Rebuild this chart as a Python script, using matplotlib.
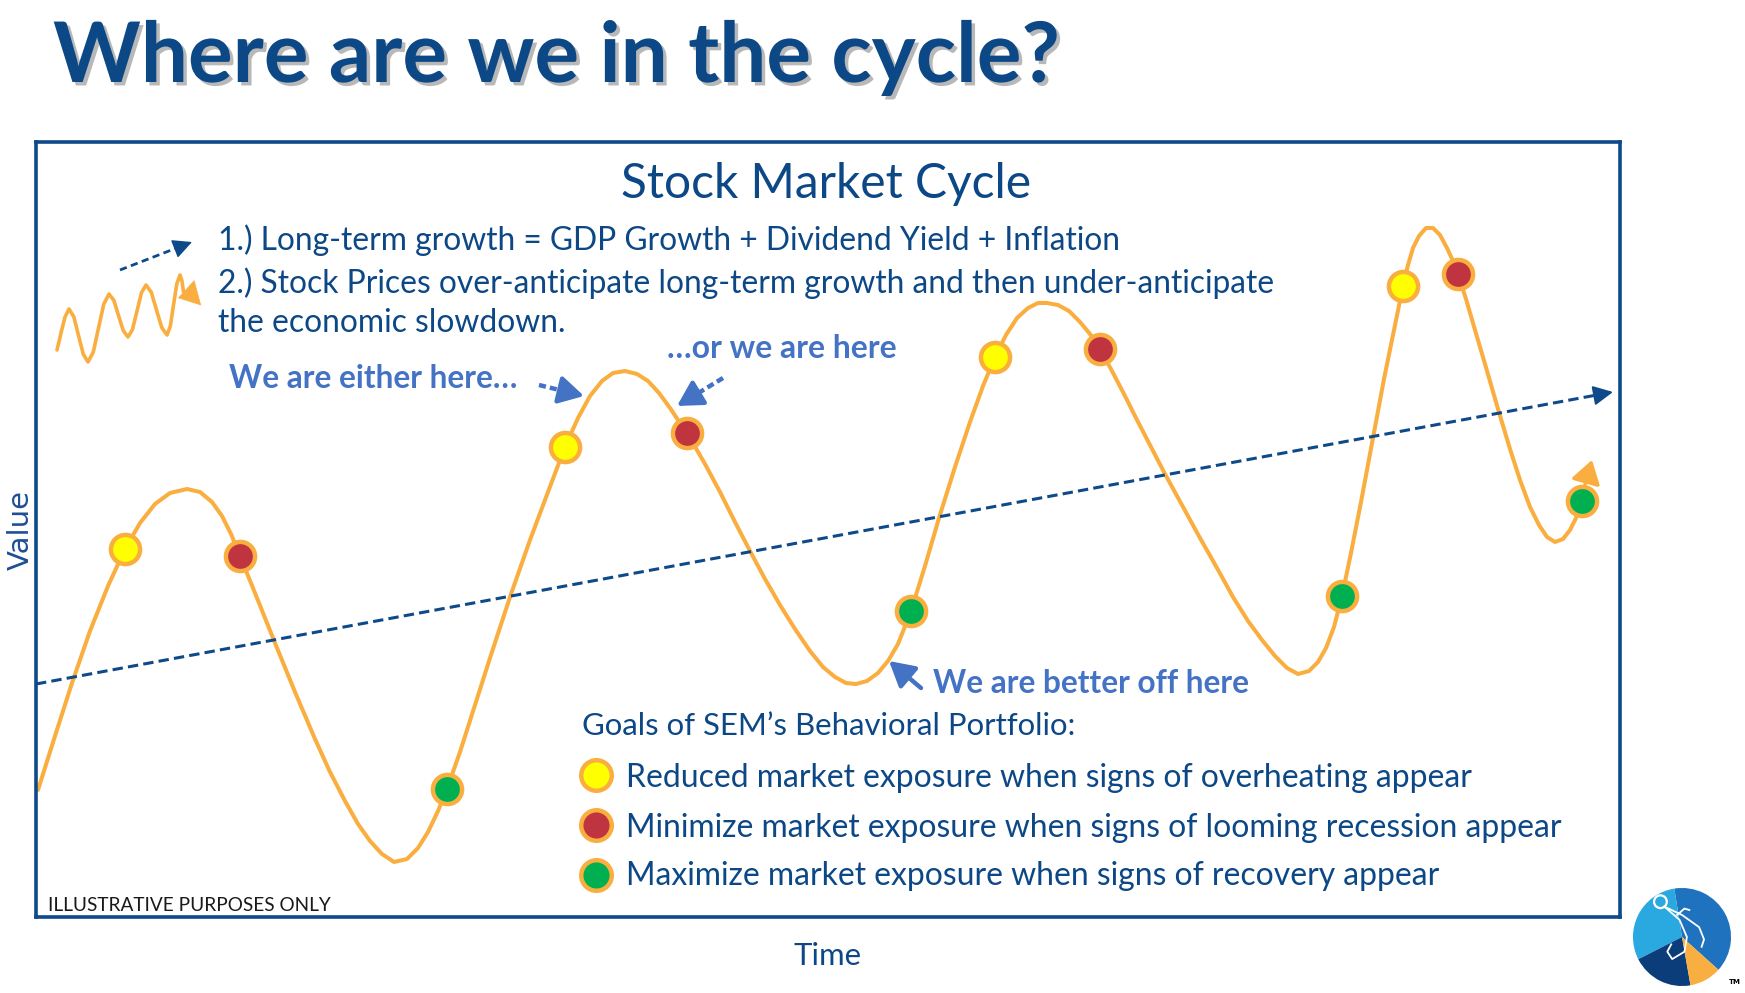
import matplotlib
matplotlib.use('Agg')
import matplotlib.pyplot as plt
import matplotlib.patheffects as pe
import numpy as np

W, H, DPI = 1745, 993, 100

# ---------------- data (Time / Value units) ----------------
curve_t = [0.2, 1.9, 3.6, 5.4, 7.2, 8.9, 10.4, 11.9, 13.4, 15.1, 16.4, 17.6, 18.6, 19.5, 20.4,
           21.9, 23.9, 25.9, 27.9, 29.4, 30.9, 32.2, 33.4, 34.6, 35.8, 37.1, 38.2, 39.2, 40.2,
           41.1, 42.4, 43.9, 45.4, 47.4, 49.4, 51.2, 52.9, 54.2, 55.4, 56.6, 57.7, 58.9, 60.1,
           61.2, 62.3, 63.4, 64.4, 65.4, 66.9, 68.4, 69.9, 71.4, 72.9, 74.4, 75.9, 77.4, 78.7,
           79.9, 81.0, 82.0, 83.1, 84.2, 85.2, 86.2, 87.5, 88.9, 90.3, 91.9, 93.4, 94.7, 95.9,
           97.0, 98.1, 99.2, 100.2, 101.1, 102.2, 103.3, 104.4, 105.4, 106.4, 107.6, 108.8,
           110.0, 111.4, 112.9, 114.6, 116.4, 118.1, 119.7, 121.2, 122.6, 123.9, 125.1, 126.2,
           127.3, 128.2, 129.0, 129.8, 130.6, 131.5, 132.5, 133.6, 134.8, 135.8, 136.7, 137.2,
           137.7, 138.3, 139.0, 139.7, 140.4, 141.1, 141.7, 142.2, 143.0, 143.9, 144.9, 146.2,
           147.4, 148.4, 149.4, 150.3, 151.1, 151.9, 152.7, 153.4, 154.0, 154.6]
curve_v = [12.7, 18.1, 23.4, 28.6, 33.1, 36.8, 39.4, 41.3, 42.4, 42.8, 42.5, 41.5, 40.1, 38.3, 36.1,
           32.4, 27.4, 22.5, 17.8, 14.5, 11.6, 9.3, 7.6, 6.3, 5.5, 5.8, 6.9, 8.5, 10.6,
           12.8, 16.5, 21.2, 25.9, 32.0, 37.7, 42.5, 47.0, 49.9, 52.1, 53.6, 54.4, 54.6, 54.3,
           53.6, 52.4, 50.9, 49.4, 47.9, 45.3, 42.5, 39.5, 36.6, 33.8, 31.2, 28.8, 26.6, 25.0,
           24.0, 23.4, 23.3, 23.6, 24.4, 25.6, 27.3, 30.6, 35.1, 39.9, 45.0, 49.5, 53.1, 56.0,
           58.2, 59.9, 60.9, 61.4, 61.4, 61.2, 60.6, 59.5, 58.3, 56.8, 54.6, 52.3,
           49.9, 47.2, 44.3, 41.2, 37.9, 34.9, 32.0, 29.6, 27.7, 26.1, 24.9, 24.3,
           24.6, 25.5, 26.9, 29.0, 32.1, 36.4, 41.5, 47.4, 53.8, 58.7, 63.1, 65.2,
           66.9, 68.1, 68.9, 68.9, 68.2, 66.9, 65.6, 64.3, 61.8, 58.7, 55.3, 50.8,
           46.8, 43.7, 41.0, 39.2, 38.0, 37.5, 37.8, 38.7, 39.9, 41.6]

yellow_t = [8.9, 52.9, 95.9, 136.7]
yellow_v = [36.8, 47.0, 56.0, 63.1]
red_t = [20.4, 65.1, 106.4, 142.2]
red_v = [36.1, 48.4, 56.8, 64.3]
green_t = [41.1, 87.5, 130.6, 154.6]
green_v = [12.8, 30.6, 32.1, 41.6]

trend_t = [0.0, 157.7]
trend_v = [23.3, 52.5]

end_arrow_t = [154.7, 155.6]
end_arrow_v = [42.5, 45.7]

# mini illustration (top-left)
mini_t = [2.1, 2.5, 2.9, 3.3, 3.78, 4.25, 4.73, 5.2, 5.73, 6.25, 6.78, 7.3, 7.78, 8.25, 8.73,
          9.2, 9.65, 10.1, 10.55, 11.0, 11.53, 12.05, 12.58, 13.1, 13.43, 13.75, 14.08, 14.4,
          14.6, 14.75]
mini_v = [56.7, 58.4, 60.0, 60.8, 60.03, 58.15, 56.27, 55.5, 56.5, 58.9, 61.3, 62.3, 61.67, 60.15,
          58.63, 58.0, 58.76, 60.6, 62.44, 63.2, 62.47, 60.7, 58.93, 58.2, 59.08, 61.2, 63.32, 64.2,
          63.6, 62.5]
mini_head_t = [15.7, 14.2]
mini_head_v = [62.3, 61.9]
mini_trend_t = [8.4, 15.6]
mini_trend_v = [64.7, 67.5]

# callout arrows
either_t = [50.3, 54.8]
either_v = [53.2, 52.1]
orhere_t = [68.7, 64.1]
orhere_v = [53.9, 51.1]
better_t = [88.5, 85.3]
better_v = [22.9, 25.6]

legend_t = [56.0, 56.0, 56.0]
legend_v = [14.2, 9.2, 4.2]

title = 'Where are we in the cycle?'
chart_title = 'Stock Market Cycle'
notes = ['1.) Long-term growth = GDP Growth + Dividend Yield + Inflation',
         '2.) Stock Prices over-anticipate long-term growth and then under-anticipate',
         'the economic slowdown.']
callouts = ['We are either here\u2026', '\u2026or we are here', 'We are better off here']
goals_title = 'Goals of SEM\u2019s Behavioral Portfolio:'
goals = ['Reduced market exposure when signs of overheating appear',
         'Minimize market exposure when signs of looming recession appear',
         'Maximize market exposure when signs of recovery appear']
footnote = 'ILLUSTRATIVE PURPOSES ONLY'
xlabel = 'Time'
ylabel = 'Value'

logo_shares = [141, 108, 73, 38]

# ---------------- styles ----------------
NAVY = '#0C4786'
BOX = '#0E4A8A'
LBLUE = '#4472C4'
ORANGE = '#F9AE3F'
YEL = '#FFFF00'
RED = '#C0343F'
GRN = '#00B050'
FONT = 'Lato'

fig = plt.figure(figsize=(W / DPI, H / DPI), dpi=DPI)
renderer = fig.canvas.get_renderer()

ax = fig.add_axes([36 / W, 1 - 917 / H, (1620 - 36) / W, (917 - 142) / H])
ax.set_xlim(0, 158.4)
ax.set_ylim(0, 77.5)
ax.set_xticks([])
ax.set_yticks([])
for sp in ax.spines.values():
    sp.set_linewidth(2.6)
    sp.set_color(BOX)

# trend
ax.plot(trend_t, trend_v, color=BOX, lw=2.2, ls=(0, (3.4, 1.7)), zorder=3)
dt = trend_t[1] - trend_t[0]
slope = (trend_v[1] - trend_v[0]) / dt
ax.annotate('', xy=(trend_t[1], trend_v[1]), xytext=(trend_t[1] - 1.5, trend_v[1] - 1.5 * slope),
            arrowprops=dict(arrowstyle='-|>,head_length=0.6,head_width=0.3', color=BOX, lw=1.5,
                            shrinkA=0, shrinkB=0, mutation_scale=20), zorder=3)

# main curve
ax.plot(curve_t, curve_v, color=ORANGE, lw=2.9, solid_joinstyle='round', solid_capstyle='round', zorder=2)
ax.annotate('', xy=(end_arrow_t[1], end_arrow_v[1]), xytext=(end_arrow_t[0], end_arrow_v[0]),
            arrowprops=dict(arrowstyle='-|>,head_length=0.7,head_width=0.45', color=ORANGE, lw=2.5,
                            shrinkA=0, shrinkB=0, mutation_scale=20), zorder=2)

mk = dict(ls='none', marker='o', ms=21, mew=3.2, mec=ORANGE, zorder=5)
ax.plot(yellow_t, yellow_v, mfc=YEL, **mk)
ax.plot(red_t, red_v, mfc=RED, **mk)
ax.plot(green_t, green_v, mfc=GRN, **mk)

# mini illustration
ax.plot(mini_t, mini_v, color=ORANGE, lw=2.6, solid_joinstyle='round', solid_capstyle='round', zorder=2)
ax.annotate('', xy=(mini_head_t[1], mini_head_v[1]), xytext=(mini_head_t[0], mini_head_v[0]),
            arrowprops=dict(arrowstyle='-|>,head_length=0.7,head_width=0.45', color=ORANGE, lw=0.5,
                            shrinkA=0, shrinkB=0, mutation_scale=20), zorder=2)
ax.plot([mini_trend_t[0], mini_trend_t[1] - 0.9], [mini_trend_v[0], mini_trend_v[1] - 0.35],
        color=BOX, lw=2.0, ls=(0, (2.6, 1.6)))
ax.annotate('', xy=(mini_trend_t[1], mini_trend_v[1]),
            xytext=(mini_trend_t[1] - 1.2, mini_trend_v[1] - 0.47),
            arrowprops=dict(arrowstyle='-|>,head_length=0.6,head_width=0.3', color=BOX, lw=1,
                            shrinkA=0, shrinkB=0, mutation_scale=20))


def dashed_arrow(tt, vv, color, lw=3.2):
    x0, x1 = tt
    y0, y1 = vv
    fx, fy = x0 + 0.62 * (x1 - x0), y0 + 0.62 * (y1 - y0)
    ax.plot([x0, fx], [y0, fy], color=color, lw=lw, ls=(0, (1.6, 0.9)), solid_capstyle='butt')
    ax.annotate('', xy=(x1, y1), xytext=(fx - 0.1 * (x1 - x0), fy - 0.1 * (y1 - y0)),
                arrowprops=dict(arrowstyle='-|>,head_length=0.75,head_width=0.42', color=color, lw=lw,
                                shrinkA=0, shrinkB=0, mutation_scale=20))


dashed_arrow(either_t, either_v, LBLUE)
dashed_arrow(orhere_t, orhere_v, LBLUE)
ax.annotate('', xy=(better_t[1], better_v[1]), xytext=(better_t[0], better_v[0]),
            arrowprops=dict(arrowstyle='-|>,head_length=0.75,head_width=0.42', color=LBLUE, lw=3.2,
                            shrinkA=0, shrinkB=0, mutation_scale=20))

# legend dots
lmk = dict(ls='none', marker='o', ms=22, mew=3.2, mec=ORANGE, zorder=5)
ax.plot(legend_t[0], legend_v[0], mfc=YEL, **lmk)
ax.plot(legend_t[1], legend_v[1], mfc=RED, **lmk)
ax.plot(legend_t[2], legend_v[2], mfc=GRN, **lmk)


# ---------------- texts ----------------
def ftext(x, y, s, width=None, size=20, ha='left', va='baseline', **kw):
    kw.setdefault('family', FONT)
    t = fig.text(x / W, 1 - y / H, s, fontsize=size, ha=ha, va=va, **kw)
    if width:
        w = t.get_window_extent(renderer).width
        t.set_fontsize(size * width / w)
    return t


tt = ftext(53, 82, title, width=1007, size=60, weight='bold', color=NAVY)
tt.set_path_effects([pe.withSimplePatchShadow(offset=(2.5, -2.5), shadow_rgbFace='#7f7f7f', alpha=0.55)])
ftext(826, 198, chart_title, width=410, size=30, ha='center', color=NAVY)

n2 = ftext(218, 293, notes[1], width=1058, size=20, color=NAVY)
ns = n2.get_fontsize()
ftext(218, 250, notes[0], size=ns, color=NAVY)
ftext(218, 332, notes[2], size=ns, color=NAVY)

ftext(229, 388, callouts[0], width=289, size=20, weight='bold', color=LBLUE)
ftext(667, 358, callouts[1], width=230, size=20, weight='bold', color=LBLUE)
ftext(933, 693, callouts[2], width=317, size=20, weight='bold', color=LBLUE)

ftext(582, 735, goals_title, width=494, size=20, color=NAVY)
g2 = ftext(626, 837, goals[1], width=938, size=20, color=NAVY)
gs = g2.get_fontsize()
ftext(626, 787, goals[0], size=gs, color=NAVY)
ftext(626, 885, goals[2], size=gs, color=NAVY)

ftext(48, 911, footnote, width=282, size=12, color='#1a1a1a')
ftext(828, 965, xlabel, width=68, size=20, ha='center', color=NAVY)
vl = fig.text(21 / W, 1 - 530 / H, ylabel, rotation=90, ha='center', va='center',
              fontsize=18, color='#1F4E96', family='DejaVu Sans')
hh = vl.get_window_extent(renderer).height
vl.set_fontsize(18 * 80 / hh)

# ---------------- logo ----------------
lax = fig.add_axes([1632 / W, 1 - 987 / H, 100 / W, 100 / H])
lax.pie(logo_shares, colors=['#1F73BE', '#2AA8E0', '#0A3D7A', '#F9AE41'], startangle=-42,
        counterclock=True, wedgeprops=dict(linewidth=0))
lax.set_xlim(-1.02, 1.02)
lax.set_ylim(-1.02, 1.02)
lax.set_aspect('equal')
lax.axis('off')
lax.add_patch(plt.Circle((-0.44, 0.72), 0.13, fill=False, ec='white', lw=1.6))
lax.plot([-0.36, -0.05, 0.1, 0.05, -0.2, -0.3, -0.22],
         [0.62, 0.35, 0.0, -0.3, -0.45, -0.3, -0.15], color='white', lw=1.3)
lax.plot([-0.36, 0.0, 0.35, 0.45, 0.4], [0.62, 0.45, 0.2, -0.05, -0.2], color='white', lw=1.3)
lax.plot([-0.1, 0.05, 0.15], [0.45, 0.58, 0.55], color='white', lw=1.3)
fig.text(1735 / W, 1 - 984 / H, 'TM', fontsize=5, weight='bold', ha='center', va='baseline',
         family='DejaVu Sans', color='black')

fig.savefig('out.png', dpi=DPI)
